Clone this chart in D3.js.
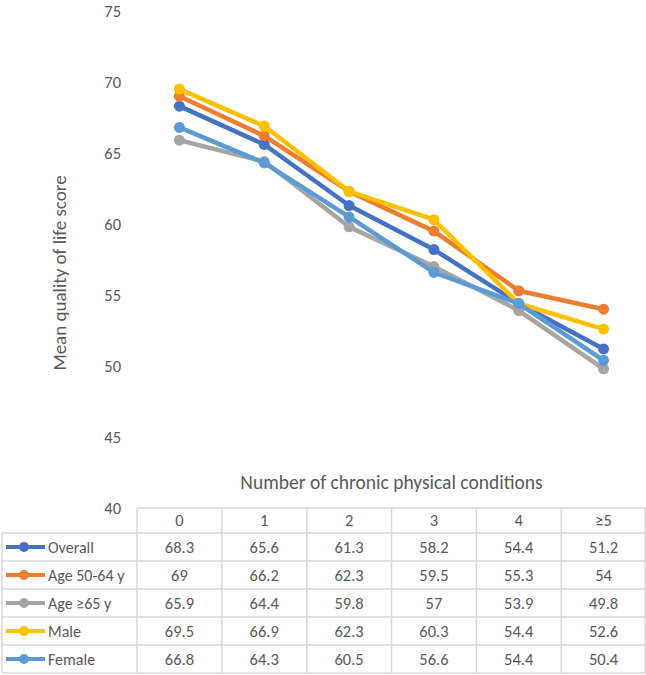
<!DOCTYPE html>
<html>
<head>
<meta charset="utf-8">
<script src="https://cdn.jsdelivr.net/npm/d3@7"></script>
<style>
  html, body { margin: 0; padding: 0; background: #fff; }
  svg { display: block; }
  text { font-family: Carlito, Calibri, Lato, "Open Sans", sans-serif; fill: #595959; }
</style>
</head>
<body>
<svg id="chart" width="646" height="675"></svg>
<script>
const categories = ["0", "1", "2", "3", "4", "≥5"];
const seriesNames = ["Overall", "Age 50-64 y", "Age ≥65 y", "Male", "Female"];
const overall = [68.3, 65.6, 61.3, 58.2, 54.4, 51.2];
const age5064 = [69, 66.2, 62.3, 59.5, 55.3, 54];
const age65 = [65.9, 64.4, 59.8, 57, 53.9, 49.8];
const male = [69.5, 66.9, 62.3, 60.3, 54.4, 52.6];
const female = [66.8, 64.3, 60.5, 56.6, 54.4, 50.4];
const yTicks = [40, 45, 50, 55, 60, 65, 70, 75];
const colors = ["#4472C4", "#ED7D31", "#A5A5A5", "#FFC000", "#5B9BD5"];

const series = seriesNames.map((name, i) => ({
  name, color: colors[i],
  values: [overall, age5064, age65, male, female][i]
}));

const svg = d3.select("#chart");
const W = 646;
const tableLeft = 2, colStart = 137, tableTop = 508, headerH = 25, rowH = 28;

const x = d3.scaleBand().domain(categories).range([colStart, W]);
const y = d3.scaleLinear().domain([40, 75]).range([tableTop, 11]);

// Y axis labels
const yAxis = d3.axisLeft(y).tickValues(yTicks).tickSize(0).tickPadding(0);
const gy = svg.append("g").attr("transform", "translate(121,0)").call(yAxis);
gy.select(".domain").remove();
gy.selectAll("text").style("font-size", "16.5px").style("font-family", null).attr("fill", "#595959").attr("dy", "0.32em");

// Y title
svg.append("text")
  .attr("transform", "translate(66,273) rotate(-90)")
  .attr("text-anchor", "middle")
  .style("font-size", "19px")
  .text("Mean quality of life score");

// X title
svg.append("text")
  .attr("x", (colStart + W) / 2).attr("y", 489)
  .attr("text-anchor", "middle")
  .style("font-size", "19.5px")
  .text("Number of chronic physical conditions");

// Lines
const line = d3.line()
  .x((d, i) => x(categories[i]) + x.bandwidth() / 2)
  .y(d => y(d));

const gs = svg.append("g").selectAll("g").data(series).join("g");
gs.append("path")
  .attr("d", d => line(d.values))
  .attr("fill", "none")
  .attr("stroke", d => d.color)
  .attr("stroke-width", 4.5)
  .attr("stroke-linejoin", "round");
gs.selectAll("circle").data(d => d.values.map(v => ({ v, c: d.color })))
  .join("circle")
  .attr("cx", (d, i) => x(categories[i]) + x.bandwidth() / 2)
  .attr("cy", d => y(d.v))
  .attr("r", 5.5)
  .attr("fill", d => d.c);

// Data table
const grid = svg.append("g").attr("stroke", "#d9d9d9").attr("stroke-width", 1.5).attr("fill", "none");
const tableBottom = tableTop + headerH + rowH * series.length;
grid.append("line").attr("x1", colStart).attr("x2", W).attr("y1", tableTop).attr("y2", tableTop);
for (let r = 0; r <= series.length; r++) {
  const yy = tableTop + headerH + r * rowH;
  grid.append("line").attr("x1", tableLeft).attr("x2", W).attr("y1", yy).attr("y2", yy);
}
grid.append("line").attr("x1", tableLeft).attr("x2", tableLeft).attr("y1", tableTop + headerH).attr("y2", tableBottom);
categories.forEach(c => {
  grid.append("line").attr("x1", x(c)).attr("x2", x(c)).attr("y1", tableTop).attr("y2", tableBottom);
});
grid.append("line").attr("x1", W - 1).attr("x2", W - 1).attr("y1", tableTop).attr("y2", tableBottom);

// header labels
svg.append("g").selectAll("text").data(categories).join("text")
  .attr("x", d => x(d) + x.bandwidth() / 2)
  .attr("y", tableTop + headerH / 2)
  .attr("dy", "0.35em")
  .attr("text-anchor", "middle")
  .style("font-size", "16.5px")
  .text(d => d);

// rows
const rows = svg.append("g").selectAll("g").data(series).join("g")
  .attr("transform", (d, i) => `translate(0,${tableTop + headerH + i * rowH + rowH / 2})`);
rows.append("line")
  .attr("x1", 6).attr("x2", 45).attr("y1", 0).attr("y2", 0)
  .attr("stroke", d => d.color).attr("stroke-width", 4);
rows.append("circle").attr("cx", 24).attr("cy", 0).attr("r", 5).attr("fill", d => d.color);
rows.append("text").attr("x", 48).attr("dy", "0.35em").style("font-size", "16px").text(d => d.name);
rows.selectAll("text.val").data(d => d.values).join("text")
  .attr("class", "val")
  .attr("x", (d, i) => x(categories[i]) + x.bandwidth() / 2)
  .attr("dy", "0.35em")
  .attr("text-anchor", "middle")
  .style("font-size", "16.5px")
  .text(d => d);
</script>
</body>
</html>
